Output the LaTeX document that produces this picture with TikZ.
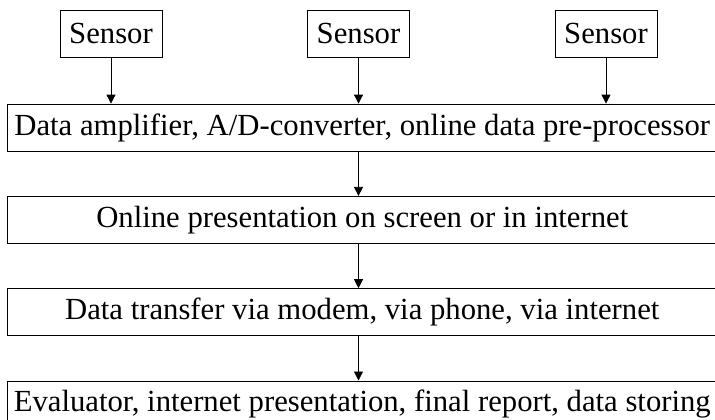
\documentclass[tikz,border=0pt]{standalone}
\usepackage{fontspec}
\setmainfont{Liberation Serif}
\usetikzlibrary{arrows.meta,positioning}

\begin{document}
\begin{tikzpicture}[x=1pt,y=-1pt,node distance=44.5pt,>={Triangle[width=9pt,length=9pt]},line width=0.8pt,
  every node/.style={font=\fontsize{30.7}{34}\selectfont,inner sep=0pt},
  sensorbox/.style={draw,minimum width=102pt,minimum height=47pt},
  stagebox/.style={draw,minimum width=709.5pt,minimum height=47pt}]
\useasboundingbox (0,0) rectangle (715,420);
\clip (0,0) rectangle (715,420);
\node[sensorbox] (s1) at (111,33.5) {Sensor};
\node[sensorbox] (s2) at (358.5,33.5) {Sensor};
\node[sensorbox] (s3) at (606,33.5) {Sensor};
\node[stagebox] (amp) at (362.25,127.5) {Data amplifier, A/D-converter, online data pre-processor};
\node[stagebox,below=of amp] (pres) {Online presentation on screen or in internet};
\node[stagebox,below=of pres] (trans) {Data transfer via modem, via phone, via internet};
\node[stagebox,below=of trans] (eval) {Evaluator, internet presentation, final report, data storing};
\draw[->] (s1) -- (s1 |- amp.north);
\draw[->] (s2) -- (s2 |- amp.north);
\draw[->] (s3) -- (s3 |- amp.north);
\draw[->] (amp.south -| s2) -- (pres.north -| s2);
\draw[->] (pres.south -| s2) -- (trans.north -| s2);
\draw[->] (trans.south -| s2) -- (eval.north -| s2);
\end{tikzpicture}
\end{document}
